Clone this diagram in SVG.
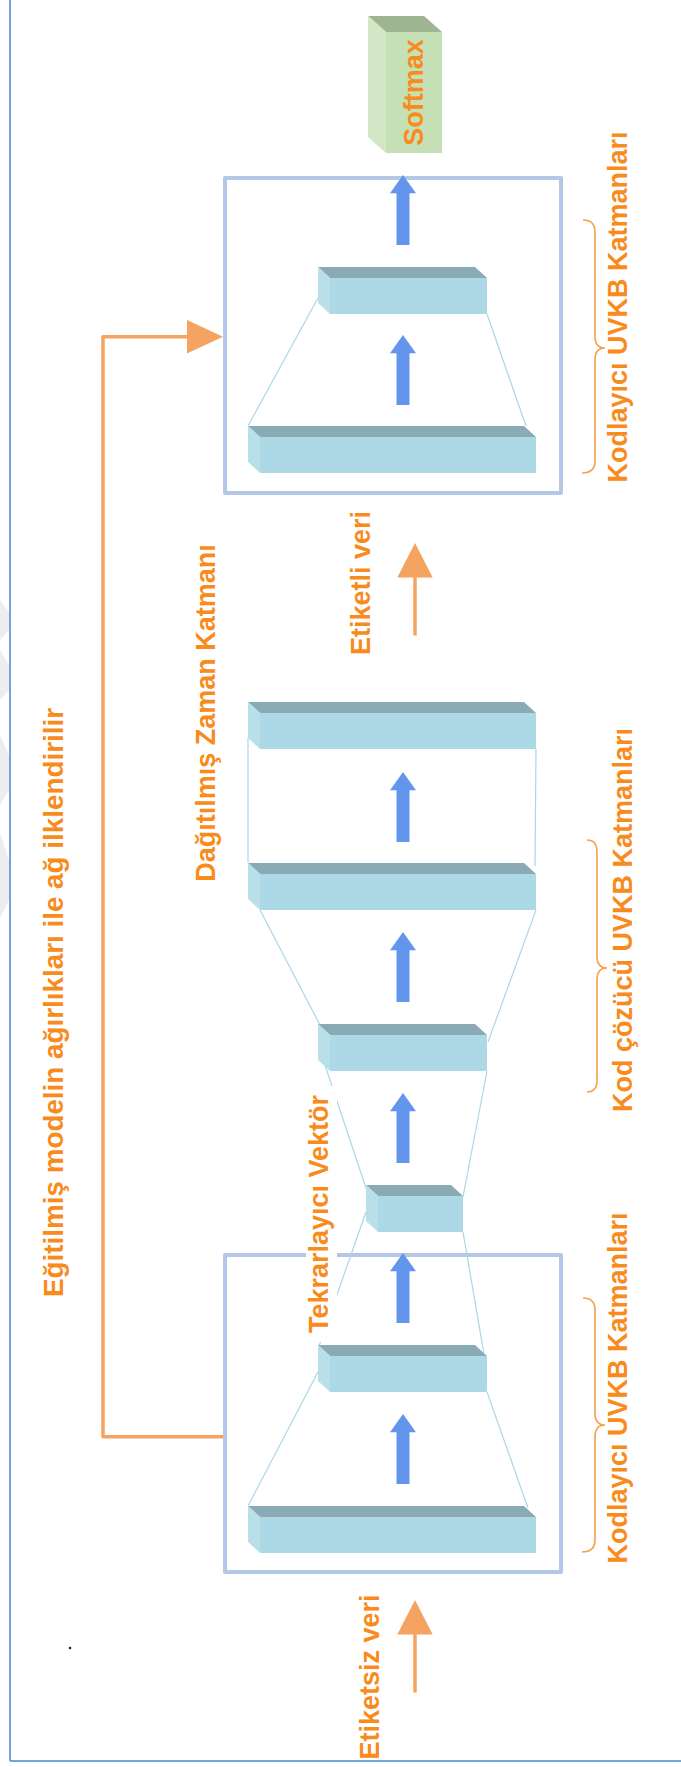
<svg xmlns="http://www.w3.org/2000/svg" xmlns:xlink="http://www.w3.org/1999/xlink" width="681" height="1767" viewBox="0 0 681 1767">
  <style>
    .lbl { font-family: "Liberation Sans", Arial, sans-serif; font-weight: bold; font-size: 27px; fill: #f98b1c; text-anchor: middle; }
    .frame { fill: none; stroke: #b4c7e7; stroke-width: 4; stroke-linejoin: round; }
    .front { fill: #add8e6; }
    .top { fill: #8aabb5; }
    .side { fill: #b9dfe9; }
    .link { stroke: #a9d8e6; stroke-width: 1.2; fill: none; }
    .brace { fill: none; stroke: #f7a04a; stroke-width: 1.6; }
    .feed { fill: none; stroke: #f4a460; stroke-width: 3.5; stroke-linejoin: round; }
  </style>
  <defs>
    <!-- blue flow arrow, tip at origin pointing up -->
    <polygon id="barrow" points="0,0 13,18.3 6.5,18.3 6.5,70 -6.5,70 -6.5,18.3 -13,18.3" fill="#6495ed"/>
    <!-- orange input arrow, tip at origin pointing up -->
    <g id="oarrow">
      <line x1="0" y1="30" x2="0" y2="92.5" stroke="#f4a460" stroke-width="3.5"/>
      <polygon points="0,0 17.7,34.6 -17.7,34.6" fill="#f4a460"/>
    </g>
  </defs>

  <rect x="0" y="0" width="681" height="1767" fill="#ffffff"/>

  <!-- faint page watermark strokes at the left margin -->
  <g id="watermark" fill="#ededed">
    <polygon points="0,600 9,612 9,630 0,640"/>
    <polygon points="0,650 9,665 9,690 0,700"/>
    <polygon points="0,735 9,755 9,790 0,805"/>
    <polygon points="0,833 9,860 9,900 0,918"/>
  </g>

  <!-- page frame -->
  <g id="page-frame" stroke="#6fa6dc" stroke-width="2" fill="none">
    <line x1="10" y1="0" x2="10" y2="1761"/>
    <line x1="10" y1="1761" x2="681" y2="1761"/>
  </g>
  <circle cx="70" cy="1648" r="1.3" fill="#222"/>

  <!-- encoder frames -->
  <rect id="encoder-frame-top" class="frame" x="225" y="178" width="336" height="315"/>
  <rect id="encoder-frame-bottom" class="frame" x="225" y="1255" width="336" height="317"/>

  <!-- thin connectors between layer blocks -->
  <g id="connectors">
    <line class="link" x1="318" y1="298" x2="248" y2="426"/>
    <line class="link" x1="487" y1="314" x2="526" y2="426"/>
    <line class="link" x1="248" y1="738" x2="248" y2="863"/>
    <line class="link" x1="536" y1="749" x2="535" y2="866"/>
    <line class="link" x1="260" y1="910" x2="320" y2="1025"/>
    <line class="link" x1="536" y1="910" x2="488" y2="1042"/>
    <line class="link" x1="325" y1="1065" x2="366" y2="1188"/>
    <line class="link" x1="487" y1="1071" x2="463" y2="1197"/>
    <line class="link" x1="366" y1="1212" x2="319" y2="1346"/>
    <line class="link" x1="463" y1="1232" x2="484" y2="1354"/>
    <line class="link" x1="318" y1="1372" x2="248" y2="1506"/>
    <line class="link" x1="487" y1="1392" x2="528" y2="1508"/>

    <!-- weight initialisation feedback -->
    <path class="feed" d="M223,1436.7 L103,1436.7 L103,336.7 L188,336.7"/>
    <polygon points="187,320 223,336.7 187,353.4" fill="#f4a460"/>

    <!-- data flow arrows -->
    <use xlink:href="#barrow" x="403" y="175"/>
    <use xlink:href="#barrow" x="403" y="335"/>
    <use xlink:href="#barrow" x="403" y="772"/>
    <use xlink:href="#barrow" x="403" y="932"/>
    <use xlink:href="#barrow" x="403" y="1093"/>
    <use xlink:href="#barrow" x="403" y="1253"/>
    <use xlink:href="#barrow" x="403" y="1414"/>
    <use xlink:href="#oarrow" x="415" y="543"/>
    <use xlink:href="#oarrow" x="415" y="1600"/>
  </g>

  <!-- softmax output block -->
  <g id="softmax">
    <polygon points="368,16 424,16 442,32 386,32" fill="#9fb592"/>
    <polygon points="368,16 386,32 386,153 368,137" fill="#d3e6c6"/>
    <rect x="386" y="32" width="56" height="121" fill="#c5e0b4"/>
    <text class="lbl" transform="translate(423,92.5) rotate(-90)">Softmax</text>
  </g>

  <!-- encoder (top) layers -->
  <g id="layer-a">
    <polygon class="top" points="318,267 475,267 487,278 330,278"/>
    <polygon class="side" points="318,267 330,278 330,314 318,303"/>
    <rect class="front" x="330" y="278" width="157" height="36"/>
  </g>
  <g id="layer-b">
    <polygon class="top" points="248,426 524,426 536,437 260,437"/>
    <polygon class="side" points="248,426 260,437 260,473 248,462"/>
    <rect class="front" x="260" y="437" width="276" height="36"/>
  </g>

  <!-- decoder / time distributed layers -->
  <g id="layer-c">
    <polygon class="top" points="248,702 524,702 536,713 260,713"/>
    <polygon class="side" points="248,702 260,713 260,749 248,738"/>
    <rect class="front" x="260" y="713" width="276" height="36"/>
  </g>
  <g id="layer-d">
    <polygon class="top" points="248,863 524,863 536,874 260,874"/>
    <polygon class="side" points="248,863 260,874 260,910 248,899"/>
    <rect class="front" x="260" y="874" width="276" height="36"/>
  </g>
  <g id="layer-e">
    <polygon class="top" points="318,1024 475,1024 487,1035 330,1035"/>
    <polygon class="side" points="318,1024 330,1035 330,1071 318,1060"/>
    <rect class="front" x="330" y="1035" width="157" height="36"/>
  </g>
  <g id="layer-f">
    <polygon class="top" points="366,1185 451,1185 463,1196 378,1196"/>
    <polygon class="side" points="366,1185 378,1196 378,1232 366,1221"/>
    <rect class="front" x="378" y="1196" width="85" height="36"/>
  </g>

  <!-- encoder (bottom) layers -->
  <g id="layer-g">
    <polygon class="top" points="318,1345 475,1345 487,1356 330,1356"/>
    <polygon class="side" points="318,1345 330,1356 330,1392 318,1381"/>
    <rect class="front" x="330" y="1356" width="157" height="36"/>
  </g>
  <g id="layer-h">
    <polygon class="top" points="248,1506 524,1506 536,1517 260,1517"/>
    <polygon class="side" points="248,1506 260,1517 260,1553 248,1542"/>
    <rect class="front" x="260" y="1517" width="276" height="36"/>
  </g>

  <!-- braces -->
  <g id="braces">
    <path class="brace" d="M583,220 Q595,220 595,232 L595,336 Q595,348 605,348 Q595,348 595,360 L595,461 Q595,473 582,473"/>
    <path class="brace" d="M587,840 Q597,840 597,852 L597,956 Q597,968 607,968 Q597,968 597,980 L597,1080 Q597,1092 587,1092"/>
    <path class="brace" d="M583,1298 Q595,1298 595,1310 L595,1413 Q595,1425 605,1425 Q595,1425 595,1437 L595,1540 Q595,1552 582,1552"/>
  </g>

  <!-- labels -->
  <g id="labels">
    <text class="lbl" transform="translate(63,1002.5) rotate(-90)" textLength="589" lengthAdjust="spacingAndGlyphs">Eğitilmiş modelin ağırlıkları ile ağ ilklendirilir</text>
    <text class="lbl" transform="translate(215,713) rotate(-90)">Dağıtılmış Zaman Katmanı</text>
    <g id="repeat-label">
      <rect x="306" y="1086" width="31" height="256" fill="#ffffff"/>
      <text class="lbl" transform="translate(328,1214) rotate(-90)">Tekrarlayıcı Vektör</text>
    </g>
    <text class="lbl" transform="translate(370,583) rotate(-90)">Etiketli veri</text>
    <text class="lbl" transform="translate(379,1677) rotate(-90)">Etiketsiz veri</text>
    <text class="lbl" transform="translate(627,307) rotate(-90)">Kodlayıcı UVKB Katmanları</text>
    <text class="lbl" transform="translate(632,920) rotate(-90)">Kod çözücü UVKB Katmanları</text>
    <text class="lbl" transform="translate(627,1388) rotate(-90)">Kodlayıcı UVKB Katmanları</text>
  </g>
</svg>
